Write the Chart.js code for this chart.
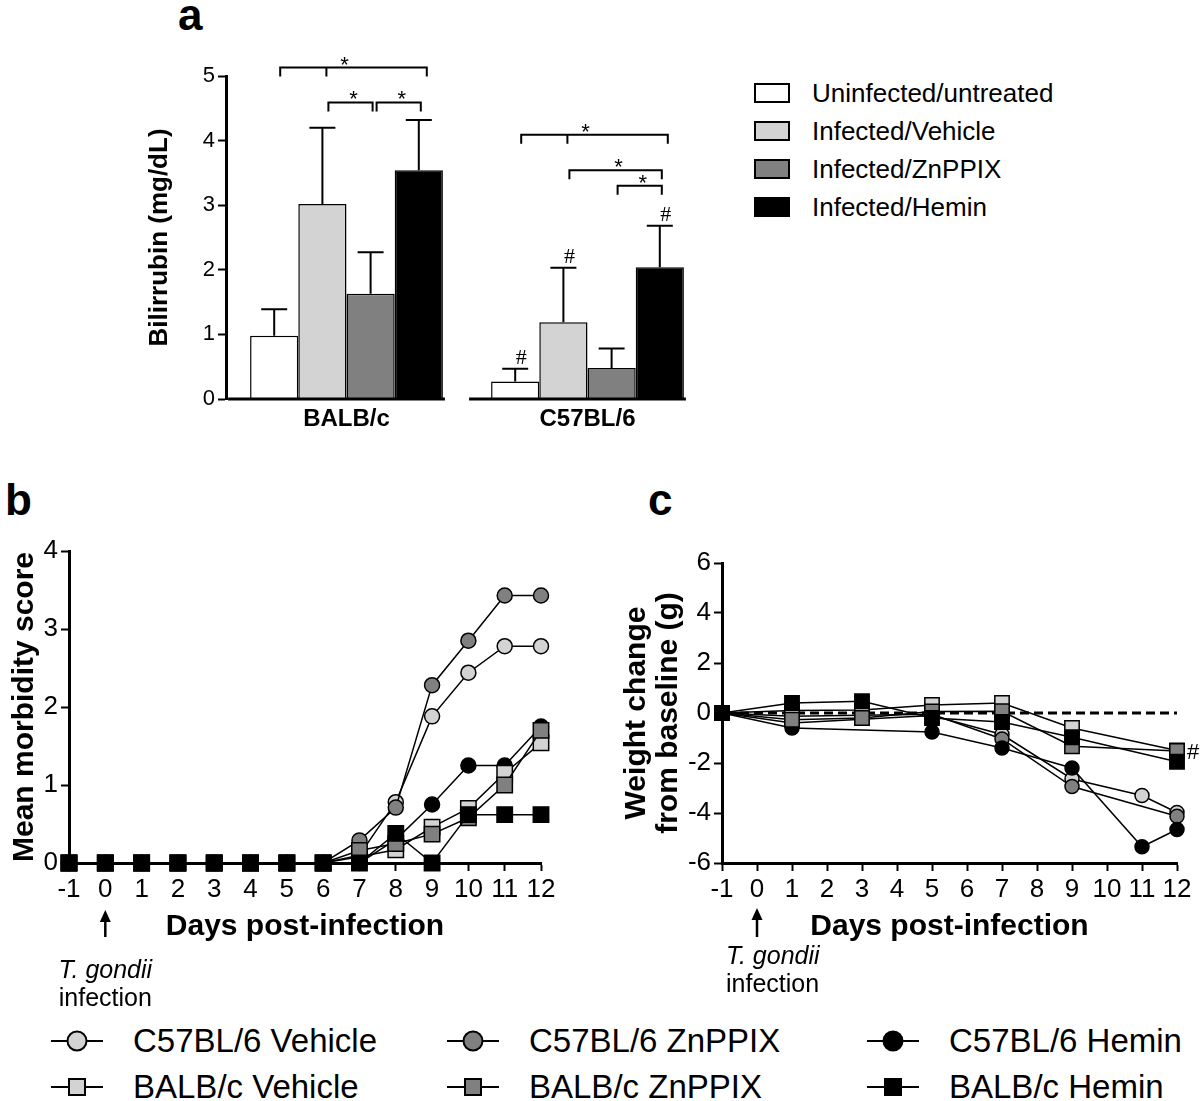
<!DOCTYPE html>
<html lang="en">
<head>
  <meta charset="UTF-8">
  <meta name="viewport" content="width=device-width, initial-scale=1.0">
  <title>Bilirubin, morbidity and weight change after T. gondii infection</title>
  <style>
    body {
      margin: 0;
      background: #fff;
      font-family: 'Liberation Sans', Arial, sans-serif;
      color: #000;
    }
    #page {
      position: relative;
      width: 1200px;
      height: 1101px;
      overflow: hidden;
    }
    canvas {
      position: absolute;
    }
    .letter {
      position: absolute;
      font-size: 44px;
      font-weight: bold;
      line-height: 1;
    }
    .key-a {
      position: absolute;
      left: 754px;
      height: 30px;
      display: flex;
      align-items: center;
      font-size: 26px;
      white-space: nowrap;
    }
    .key-a .box {
      width: 32px;
      height: 16px;
      border: 2px solid #000;
      margin-right: 22px;
    }
    .key-b {
      position: absolute;
      height: 40px;
      display: flex;
      align-items: center;
      font-size: 33px;
      white-space: nowrap;
    }
    .key-b .mark {
      position: relative;
      width: 52px;
      height: 40px;
      margin-right: 30px;
    }
    .key-b .mark::before {
      content: '';
      position: absolute;
      left: 0;
      right: 0;
      top: 19px;
      height: 2px;
      background: #000;
    }
    .key-b .dot {
      position: absolute;
      left: 50%;
      top: 50%;
      transform: translate(-50%, -50%);
      border: 2px solid #000;
      box-sizing: border-box;
    }
  </style>
  <script src="https://cdn.jsdelivr.net/npm/chart.js"></script>
</head>
<body>
<div id="page">
  <div class="letter" style="left:178px; top:-7px;">a</div>
  <div class="letter" style="left:5px; top:478px;">b</div>
  <div class="letter" style="left:648px; top:478px;">c</div>

  <canvas id="bili" width="740" height="440" style="left:0; top:0;"></canvas>
  <canvas id="morb" width="590" height="530" style="left:0; top:490px;"></canvas>
  <canvas id="weight" width="610" height="530" style="left:590px; top:490px;"></canvas>

  <div id="keyA"></div>
  <div id="keyB"></div>
</div>

<script>
  // ---- panel a: bilirubin (mg/dL), mean + upper error ----
  const strains = ['BALB/c', 'C57BL/6'];
  const barGroups = ['Uninfected/untreated', 'Infected/Vehicle', 'Infected/ZnPPIX', 'Infected/Hemin'];
  const barColors = ['#ffffff', '#d3d3d3', '#808080', '#000000'];
  const uninfected = [0.98, 0.27];
  const uninfectedErr = [0.41, 0.20];
  const vehicle = [3.02, 1.19];
  const vehicleErr = [1.18, 0.84];
  const znppix = [1.63, 0.48];
  const znppixErr = [0.64, 0.30];
  const hemin = [3.54, 2.04];
  const heminErr = [0.78, 0.64];

  // significance brackets: strain index, bars joined, height in mg/dL
  const sigBrackets = [
    { strain: 0, bars: [0, 1, 3], at: 5.13 },
    { strain: 0, bars: [1, 2], at: 4.59 },
    { strain: 0, bars: [2, 3], at: 4.59 },
    { strain: 1, bars: [0, 1, 3], at: 4.09 },
    { strain: 1, bars: [1, 3], at: 3.54 },
    { strain: 1, bars: [2, 3], at: 3.30 }
  ];
  // '#' over these bars: [strain, bar]
  const hashBars = [[1, 0], [1, 1], [1, 3]];

  // ---- panels b and c ----
  const seriesNames = ['C57BL/6 Vehicle', 'C57BL/6 ZnPPIX', 'C57BL/6 Hemin',
                       'BALB/c Vehicle', 'BALB/c ZnPPIX', 'BALB/c Hemin'];
  const seriesFill = ['#d3d3d3', '#808080', '#000000', '#d3d3d3', '#808080', '#000000'];
  const seriesShape = ['circle', 'circle', 'circle', 'rect', 'rect', 'rect'];
  const drawOrder = [5, 4, 3, 2, 1, 0];

  // b: mean morbidity score
  const morbDays = [-1, 0, 1, 2, 3, 4, 5, 6, 7, 8, 9, 10, 11, 12];
  const morbC57Vehicle = [0, 0, 0, 0, 0, 0, 0, 0, 0.10, 0.78, 1.88, 2.44, 2.78, 2.78];
  const morbC57Znppix  = [0, 0, 0, 0, 0, 0, 0, 0, 0.29, 0.71, 2.28, 2.85, 3.43, 3.43];
  const morbC57Hemin   = [0, 0, 0, 0, 0, 0, 0, 0, 0, 0.30, 0.75, 1.25, 1.25, 1.75];
  const morbBalbVehicle = [0, 0, 0, 0, 0, 0, 0, 0, 0.08, 0.17, 0.46, 0.70, 1.15, 1.54];
  const morbBalbZnppix  = [0, 0, 0, 0, 0, 0, 0, 0, 0.16, 0.25, 0.37, 0.58, 1.00, 1.70];
  const morbBalbHemin   = [0, 0, 0, 0, 0, 0, 0, 0, 0, 0.38, 0, 0.62, 0.62, 0.62];

  // c: weight change from baseline (g); null = not measured that day
  const weightDays = [-1, 1, 3, 5, 7, 9, 11, 12];
  const wtC57Vehicle = [0, -0.40, null, -0.10, -0.86, -2.64, -3.30, -3.98];
  const wtC57Znppix  = [0, -0.13, null, -0.05, -1.04, -2.94, null, -4.13];
  const wtC57Hemin   = [0, -0.60, null, -0.76, -1.40, -2.20, -5.35, -4.66];
  const wtBalbVehicle = [0, 0.10, 0.12, 0.32, 0.40, -0.60, null, -1.50];
  const wtBalbZnppix  = [0, -0.27, -0.20, 0.06, 0.07, -1.33, null, -1.52];
  const wtBalbHemin   = [0, 0.40, 0.47, -0.20, -0.36, -0.97, null, -1.95];

  const infectionDay = 0;

  const FONT = "'Liberation Sans', Arial, sans-serif";
  Chart.defaults.font.family = FONT;
  Chart.defaults.color = '#000';

  // ---------- plugins ----------
  const errorBars = {
    id: 'errorBars',
    afterDatasetsDraw(chart) {
      const ctx = chart.ctx;
      const y = chart.scales.y;
      ctx.save();
      ctx.strokeStyle = '#000';
      ctx.lineWidth = 2;
      chart.data.datasets.forEach((ds, i) => {
        chart.getDatasetMeta(i).data.forEach((bar, j) => {
          const top = y.getPixelForValue(ds.data[j] + ds.err[j]);
          ctx.beginPath();
          ctx.moveTo(bar.x, bar.y);
          ctx.lineTo(bar.x, top);
          ctx.moveTo(bar.x - 13, top);
          ctx.lineTo(bar.x + 13, top);
          ctx.stroke();
        });
      });
      ctx.restore();
    }
  };

  const baseline = {
    id: 'baseline',
    afterDraw(chart) {
      const ctx = chart.ctx;
      const y0 = chart.scales.y.getPixelForValue(0);
      ctx.save();
      ctx.strokeStyle = '#000';
      ctx.lineWidth = 3;
      strains.forEach((s, j) => {
        const first = chart.getDatasetMeta(0).data[j];
        const last = chart.getDatasetMeta(barGroups.length - 1).data[j];
        ctx.beginPath();
        ctx.moveTo(first.x - first.width / 2 - 22, y0);
        ctx.lineTo(last.x + last.width / 2 + 2, y0);
        ctx.stroke();
      });
      ctx.restore();
    }
  };

  const significance = {
    id: 'significance',
    afterDraw(chart) {
      const ctx = chart.ctx;
      const yScale = chart.scales.y;
      const cx = (bar, strain) => chart.getDatasetMeta(bar).data[strain].x;
      ctx.save();
      ctx.strokeStyle = '#000';
      ctx.fillStyle = '#000';
      ctx.lineWidth = 2;
      ctx.textAlign = 'center';
      sigBrackets.forEach(b => {
        const y = yScale.getPixelForValue(b.at);
        const n = b.bars.length;
        const x0 = cx(b.bars[0], b.strain) + 6;
        const x1 = cx(b.bars[n - 1], b.strain) + (n > 2 ? 8 : 2);
        ctx.beginPath();
        ctx.moveTo(x0, y + 9);
        ctx.lineTo(x0, y);
        ctx.lineTo(x1, y);
        ctx.lineTo(x1, y + 9);
        for (let k = 1; k < n - 1; k++) {
          const xm = cx(b.bars[k], b.strain) + 4;
          ctx.moveTo(xm, y);
          ctx.lineTo(xm, y + 9);
        }
        ctx.stroke();
        ctx.font = '22px ' + FONT;
        ctx.fillText('*', (x0 + x1) / 2 + (n > 2 ? -9 : 3), y + 4);
      });
      ctx.font = '22px "Liberation Serif", "Times New Roman", serif';
      hashBars.forEach(([s, b]) => {
        const ds = chart.data.datasets[b];
        const x = cx(b, s);
        const top = yScale.getPixelForValue(ds.data[s] + ds.err[s]);
        ctx.fillText('#', x + 6, top - 5);
      });
      ctx.restore();
    }
  };

  const infectionNote = {
    id: 'infectionNote',
    afterDraw(chart, args, o) {
      const ctx = chart.ctx;
      const x = chart.scales.x.getPixelForValue(infectionDay);
      ctx.save();
      ctx.strokeStyle = '#000';
      ctx.fillStyle = '#000';
      ctx.lineWidth = 2.5;
      ctx.beginPath();
      ctx.moveTo(x, o.arrowBottom);
      ctx.lineTo(x, o.arrowTop + 8);
      ctx.stroke();
      ctx.beginPath();
      ctx.moveTo(x, o.arrowTop);
      ctx.lineTo(x - 5.5, o.arrowTop + 12);
      ctx.lineTo(x + 5.5, o.arrowTop + 12);
      ctx.closePath();
      ctx.fill();
      ctx.textAlign = o.align;
      ctx.textBaseline = 'middle';
      const tx = x + o.dx;
      ctx.font = 'italic 25px ' + FONT;
      ctx.fillText('T. gondii', tx, o.line1);
      ctx.font = '25px ' + FONT;
      ctx.fillText('infection', tx, o.line2);
      ctx.restore();
    }
  };

  const zeroLine = {
    id: 'zeroLine',
    beforeDatasetsDraw(chart) {
      const ctx = chart.ctx;
      const y = chart.scales.y.getPixelForValue(0);
      const x = chart.scales.x;
      ctx.save();
      ctx.strokeStyle = '#000';
      ctx.lineWidth = 3;
      ctx.setLineDash([9, 5]);
      ctx.beginPath();
      ctx.moveTo(x.getPixelForValue(-1) + 4, y);
      ctx.lineTo(x.getPixelForValue(12), y);
      ctx.stroke();
      ctx.restore();
    }
  };

  const weightHash = {
    id: 'weightHash',
    afterDraw(chart) {
      const ctx = chart.ctx;
      ctx.save();
      ctx.fillStyle = '#000';
      ctx.font = '22px ' + FONT;
      ctx.textBaseline = 'middle';
      ctx.fillText('#', chart.scales.x.getPixelForValue(12) + 10, chart.scales.y.getPixelForValue(-1.6));
      ctx.restore();
    }
  };

  // ---------- shared axis styling ----------
  const axisGrid = { drawOnChartArea: false, drawTicks: true, tickLength: 8, tickWidth: 2, tickColor: '#000' };
  const axisBorder = { display: true, width: 3, color: '#000' };

  // ---------- panel a ----------
  const barValues = [uninfected, vehicle, znppix, hemin];
  const barErrors = [uninfectedErr, vehicleErr, znppixErr, heminErr];

  new Chart(document.getElementById('bili'), {
    type: 'bar',
    data: {
      labels: strains,
      datasets: barGroups.map((g, i) => ({
        label: g,
        data: barValues[i],
        err: barErrors[i],
        backgroundColor: barColors[i],
        borderColor: '#000',
        borderWidth: 1.5,
        borderSkipped: 'bottom',
        barPercentage: 1,
        categoryPercentage: 0.8
      }))
    },
    options: {
      responsive: false,
      animation: false,
      devicePixelRatio: 1,
      layout: { padding: { top: 76, right: 32, left: 0, bottom: 0 } },
      plugins: { legend: { display: false }, tooltip: { enabled: false } },
      scales: {
        x: {
          grid: { display: false, drawTicks: false },
          border: { display: false },
          ticks: { font: { size: 24, weight: 'bold' }, padding: 6 },
          afterFit: s => { s.height = 41; }
        },
        y: {
          min: 0,
          max: 5,
          ticks: { stepSize: 1, font: { size: 22 }, padding: 3 },
          grid: axisGrid,
          border: axisBorder,
          title: {
            display: true,
            text: 'Bilirrubin (mg/dL)',
            font: { size: 26, weight: 'bold' },
            padding: { top: 144, bottom: 0 }
          },
          afterFit: s => { s.width = 226; }
        }
      }
    },
    plugins: [errorBars, baseline, significance]
  });

  // ---------- panels b & c ----------
  function lineSet(i, days, values, r) {
    const pts = [];
    days.forEach((d, k) => { if (values[k] !== null) pts.push({ x: d, y: values[k] }); });
    const square = seriesShape[i] === 'rect';
    return {
      label: seriesNames[i],
      data: pts,
      borderColor: '#000',
      borderWidth: 1.5,
      pointStyle: seriesShape[i],
      pointRadius: square ? r * 1.45 : r,
      pointBackgroundColor: seriesFill[i],
      pointBorderColor: '#000',
      pointBorderWidth: 1.5,
      order: drawOrder[i],
      clip: false,
      tension: 0,
      fill: false
    };
  }

  function dayAxis(size) {
    return {
      type: 'linear',
      min: -1,
      max: 12,
      ticks: { stepSize: 1, font: { size: 26 }, padding: 3 },
      grid: axisGrid,
      border: axisBorder,
      title: {
        display: true,
        text: 'Days post-infection',
        font: { size: 30, weight: 'bold' },
        padding: { top: 0, bottom: 75 }
      },
      afterFit: s => { s.height = size; }
    };
  }

  const morbSeries = [morbC57Vehicle, morbC57Znppix, morbC57Hemin, morbBalbVehicle, morbBalbZnppix, morbBalbHemin];
  new Chart(document.getElementById('morb'), {
    type: 'line',
    data: { datasets: morbSeries.map((v, i) => lineSet(i, morbDays, v, 7.5)) },
    options: {
      responsive: false,
      animation: false,
      devicePixelRatio: 1,
      layout: { padding: { top: 61, right: 49, left: 0, bottom: 0 } },
      plugins: {
        legend: { display: false },
        tooltip: { enabled: false },
        infectionNote: { arrowTop: 420, arrowBottom: 447, line1: 481, line2: 509, align: 'center', dx: 0 }
      },
      scales: {
        x: dayAxis(157),
        y: {
          min: 0,
          max: 4,
          ticks: { stepSize: 1, font: { size: 26 }, padding: 3 },
          grid: axisGrid,
          border: axisBorder,
          title: {
            display: true,
            text: 'Mean morbidity score',
            font: { size: 30, weight: 'bold' },
            padding: { top: 7, bottom: 0 }
          },
          afterFit: s => { s.width = 69; }
        }
      }
    },
    plugins: [infectionNote]
  });

  const weightSeries = [wtC57Vehicle, wtC57Znppix, wtC57Hemin, wtBalbVehicle, wtBalbZnppix, wtBalbHemin];
  new Chart(document.getElementById('weight'), {
    type: 'line',
    data: { datasets: weightSeries.map((v, i) => lineSet(i, weightDays, v, 7)) },
    options: {
      responsive: false,
      animation: false,
      devicePixelRatio: 1,
      layout: { padding: { top: 73, right: 23, left: 0, bottom: 0 } },
      plugins: {
        legend: { display: false },
        tooltip: { enabled: false },
        infectionNote: { arrowTop: 418, arrowBottom: 447, line1: 467, line2: 495, align: 'left', dx: -31 }
      },
      scales: {
        x: dayAxis(157),
        y: {
          min: -6,
          max: 6,
          ticks: { stepSize: 2, font: { size: 26 }, padding: 3 },
          grid: axisGrid,
          border: axisBorder,
          title: {
            display: true,
            text: ['Weight change', 'from baseline (g)'],
            font: { size: 30, weight: 'bold', lineHeight: 1.05 },
            padding: { top: 31, bottom: 0 }
          },
          afterFit: s => { s.width = 132; }
        }
      }
    },
    plugins: [zeroLine, infectionNote, weightHash]
  });

  // ---------- legends (HTML, built from the same arrays) ----------
  const keyA = document.getElementById('keyA');
  const keyARows = [93, 131, 169, 207];
  barGroups.forEach((g, i) => {
    const row = document.createElement('div');
    row.className = 'key-a';
    row.style.top = (keyARows[i] - 15) + 'px';
    const box = document.createElement('span');
    box.className = 'box';
    box.style.background = barColors[i];
    row.appendChild(box);
    row.appendChild(document.createTextNode(g));
    keyA.appendChild(row);
  });

  const keyB = document.getElementById('keyB');
  const keyCols = [133, 529, 949];
  const keyRows = [1041, 1087];
  seriesNames.forEach((name, i) => {
    const item = document.createElement('div');
    item.className = 'key-b';
    item.style.left = (keyCols[i % 3] - 82) + 'px';
    item.style.top = (keyRows[Math.floor(i / 3)] - 20) + 'px';
    const mark = document.createElement('span');
    mark.className = 'mark';
    const dot = document.createElement('span');
    dot.className = 'dot';
    const round = seriesShape[i] === 'circle';
    dot.style.width = dot.style.height = (round ? 21 : 18) + 'px';
    dot.style.borderRadius = round ? '50%' : '0';
    dot.style.background = seriesFill[i];
    mark.appendChild(dot);
    item.appendChild(mark);
    item.appendChild(document.createTextNode(name));
    keyB.appendChild(item);
  });
</script>
</body>
</html>
